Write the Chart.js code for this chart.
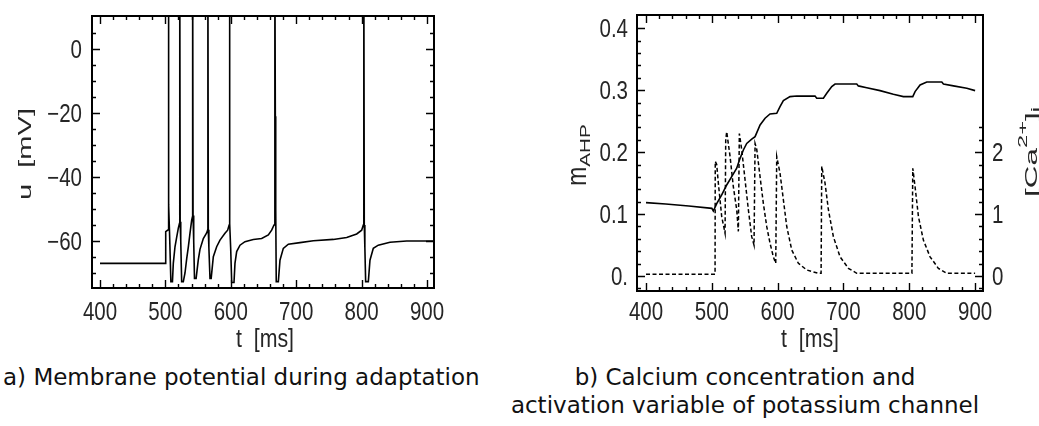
<!DOCTYPE html>
<html>
<head>
<meta charset="utf-8">
<script src="https://cdn.jsdelivr.net/npm/chart.js@4.4.1/dist/chart.umd.min.js"></script>
<style>
  html, body { margin: 0; padding: 0; background: #fff; }
  #page { position: relative; width: 1039px; height: 426px; overflow: hidden; background: #fff; }
  #chartA { position: absolute; left: 0; top: 0; }
  #chartB { position: absolute; left: 520px; top: 0; }
  .caption {
    position: absolute; margin: 0; white-space: nowrap;
    font-family: 'DejaVu Sans', Verdana, sans-serif; font-size: 23px; line-height: 28px; color: #111;
  }
  #capA { left: 3px; top: 363px; }
  #capB { left: 445px; width: 600px; top: 363px; text-align: center; }
</style>
</head>
<body>
<div id="page">
  <canvas id="chartA" width="520" height="360"></canvas>
  <canvas id="chartB" width="519" height="360"></canvas>
  <p class="caption" id="capA">a) Membrane potential during adaptation</p>
  <p class="caption" id="capB">b) Calcium concentration and<br>activation variable of potassium channel</p>
</div>
<script>
// ---- a) membrane potential u(t) ----
const membraneTime = [
  400, 500.3, 500.5, 504.2, 504.6, 505.3, 506.3, 508.4, 510.8, 512.1, 514.7, 517.3, 519.8, 521.5,
  522.0, 522.6, 523.5, 524.9, 527.4, 530, 532.6, 535.1, 537.6, 540.2, 541.4,
  541.7, 542.3, 543.3, 544.5, 547, 550.3, 552.9, 558, 563.1, 564.6,
  565.0, 565.6, 566.5, 568.2, 570, 573.3, 578.4, 583.5, 591.1, 595.2, 597.5,
  598.0, 598.6, 599.8, 601.4, 604.9, 606.4, 609, 614.1, 621.7, 634.4, 647.2, 657.4, 662.5, 666.1, 667.3,
  667.5, 668.1, 668.7, 669.5, 672.7, 675.2, 680.3, 688, 705.8, 726.2, 756.8, 777.2, 792.5, 800.1, 802.6, 803.3,
  803.5, 804.1, 805.0, 806.2, 810.3, 812.8, 817.9, 825.5, 843.4, 868.9, 910
];
const membranePotential = [
  -67, -67, -57.1, -56.5, 30, -48.7, -57, -72.7, -72.7, -67, -61.8, -58.8, -56, -54.5,
  30, -54, -60, -72.7, -72.7, -70, -65.5, -61.8, -57.6, -53.5, -52.4,
  30, -52, -60, -71.7, -71.7, -65.9, -62.6, -59.2, -57.5, -56.6,
  30, -56.5, -62, -71.7, -71.7, -64.9, -61.8, -59.7, -57.6, -56.6, -55,
  30, -54.5, -62, -73, -73, -67, -63.3, -61.3, -60.2, -59.5, -59.2, -58.1, -56.6, -55, -54.5,
  30, -21, -50, -72.7, -72.7, -66, -62.3, -61, -60.5, -59.9, -59.5, -58.9, -57.8, -56.6, -55, -54.8,
  30, -55, -62, -72.7, -72.7, -66, -62.3, -61.3, -60.4, -60, -60
];

// ---- b) activation variable m_AHP (left axis) ----
const mahpTime = [
  400, 430, 465, 500, 502.3, 507.4, 515, 522.6, 530.2, 537.8, 542.9, 547.9, 553, 560.6, 565.7,
  573.3, 580.9, 588.4, 598.6, 603.6, 608.7, 618.8, 629, 656.8, 659.4, 669.5, 674.6, 682.2, 687.2,
  720.2, 722.6, 735.4, 755.6, 775.8, 791, 805.3, 808.8, 816.4, 826.6, 849.4, 851.9, 867.1, 887.4, 900
];
const mahpValues = [
  0.1185, 0.1163, 0.113, 0.1093, 0.105, 0.117, 0.131, 0.147, 0.1605, 0.174, 0.190, 0.2035, 0.214, 0.221, 0.225,
  0.244, 0.2548, 0.2617, 0.2628, 0.2735, 0.2833, 0.2897, 0.2908, 0.2905, 0.287, 0.287, 0.295, 0.306, 0.310,
  0.310, 0.307, 0.304, 0.2994, 0.2935, 0.2897, 0.2897, 0.2978, 0.3086, 0.3134, 0.3134, 0.3102, 0.307, 0.3032, 0.2994
];

// ---- b) calcium concentration [Ca2+]i (right axis) ----
const calciumTime = [
  400, 504.9, 505.2, 507.4, 509.9, 515, 520.1, 521.1, 522.6, 527.7, 532.7, 537.8, 540.3,
  541.8, 545.4, 550.5, 555.5, 560.6, 564.1, 565.7, 568.2, 573.3, 578.3, 583.4, 588.4, 593.5, 597.1,
  598.6, 603.6, 608.7, 613.8, 621.4, 631.5, 644.2, 661.9, 666.0,
  667, 672, 677.1, 684.7, 694.8, 707.5, 720.2, 804,
  805.3, 808.8, 813.9, 821.4, 831.6, 844.2, 857, 900
];
const calciumValues = [
  0.03, 0.03, 1.85, 1.80, 1.50, 0.96, 0.69, 2.2, 2.33, 1.93, 1.44, 1.07, 0.72,
  2.30, 2.04, 1.55, 1.07, 0.635, 0.50, 2.14, 2.05, 1.60, 1.17, 0.80, 0.53, 0.31, 0.205,
  1.93, 1.66, 1.23, 0.80, 0.42, 0.205, 0.097, 0.044, 0.044,
  1.77, 1.50, 1.07, 0.635, 0.31, 0.124, 0.044, 0.044,
  1.74, 1.44, 0.96, 0.58, 0.31, 0.124, 0.044, 0.044
];

// ---- axis ticks ----
const timeTicks = [400, 500, 600, 700, 800, 900];
const timeTickLabels = ['400', '500', '600', '700', '800', '900'];
const potentialTicks = [-60, -40, -20, 0];
const potentialTickLabels = ['\u221260', '\u221240', '\u221220', '0'];
const mahpTicks = [0, 0.1, 0.2, 0.3, 0.4];
const mahpTickLabels = ['0.', '0.1', '0.2', '0.3', '0.4'];
const calciumTicks = [0, 1, 2];
const calciumTickLabels = ['0', '1', '2'];

const FONT = "'Liberation Sans', Arial, sans-serif";
const TEXT_COLOR = '#262626';
const NARROW = 0.82;   // horizontal squeeze of the plot lettering

function pairs(xs, ys) { return xs.map((x, i) => ({ x, y: ys[i] })); }

function fixedTicks(values) {
  return (scale) => { scale.ticks = values.map(v => ({ value: v })); };
}

function linearAxis(opts) {
  return {
    type: 'linear',
    position: opts.position,
    min: opts.min,
    max: opts.max,
    afterBuildTicks: fixedTicks(opts.ticks),
    afterFit: (s) => {
      if (opts.width !== undefined) s.width = opts.width;
      if (opts.height !== undefined) s.height = opts.height;
    },
    grid: { display: false, drawTicks: false },
    border: { display: false },
    ticks: { display: false }
  };
}

// Draw a piece of text made of runs (normal / sub / superscript), centred at (x, y),
// optionally rotated, squeezed or stretched along the reading direction.
function drawRuns(ctx, t) {
  ctx.save();
  ctx.fillStyle = TEXT_COLOR;
  ctx.textBaseline = 'alphabetic';
  ctx.textAlign = 'left';
  const widths = t.runs.map(r => {
    ctx.font = `${r.size}px ${FONT}`;
    return ctx.measureText(r.text).width * (r.sx || 1);
  });
  const natural = widths.reduce((p, c) => p + c, 0);
  const k = t.span ? t.span / natural : (t.squeeze || 1);
  ctx.translate(t.x, t.y);
  if (t.rotate) ctx.rotate(t.rotate);
  let x = -natural * k / 2;
  t.runs.forEach((r, i) => {
    ctx.save();
    ctx.translate(x, t.base + (r.shift || 0));
    ctx.scale(k * (r.sx || 1), 1);
    ctx.font = `${r.size}px ${FONT}`;
    ctx.fillText(r.text, 0, 0);
    ctx.restore();
    x += widths[i] * k;
  });
  ctx.restore();
}

// Frame, inward tick marks, tick labels and axis titles for one panel.
function panelDecor(cfg) {
  return {
    id: 'panelDecor',
    afterDatasetsDraw(chart) {
      const { ctx, chartArea: a } = chart;
      ctx.save();
      ctx.strokeStyle = '#000';
      ctx.lineWidth = 2;
      ctx.strokeRect(a.left, a.top, a.right - a.left, a.bottom - a.top);
      ctx.lineWidth = 1.4;
      ctx.beginPath();
      for (const s of cfg.sides) {
        const scale = chart.scales[s.scale];
        const n = Math.round((s.minorTo - s.minorFrom) / s.minorStep);
        for (let i = 0; i <= n; i++) {
          const v = s.minorFrom + i * s.minorStep;
          const major = s.major.some(m => Math.abs(m - v) < 1e-6);
          const len = major ? 8 : 4;
          const p = Math.round(scale.getPixelForValue(v)) + 0.5;
          if (s.side === 'bottom') { ctx.moveTo(p, a.bottom); ctx.lineTo(p, a.bottom - len); }
          if (s.side === 'top') { ctx.moveTo(p, a.top); ctx.lineTo(p, a.top + len); }
          if (s.side === 'left') { ctx.moveTo(a.left, p); ctx.lineTo(a.left + len, p); }
          if (s.side === 'right') { ctx.moveTo(a.right, p); ctx.lineTo(a.right - len, p); }
        }
      }
      ctx.stroke();

      // tick labels
      ctx.fillStyle = TEXT_COLOR;
      ctx.textBaseline = 'alphabetic';
      for (const l of cfg.labels) {
        const scale = chart.scales[l.scale];
        ctx.font = `${l.size}px ${FONT}`;
        l.values.forEach((v, i) => {
          const p = scale.getPixelForValue(v);
          ctx.save();
          if (l.side === 'bottom') {
            ctx.translate(p, l.baseline);
            ctx.textAlign = 'center';
          } else if (l.side === 'left') {
            ctx.translate(a.left - l.pad, p + 0.358 * l.size);
            ctx.textAlign = 'right';
          } else {
            ctx.translate(a.right + l.pad, p + 0.358 * l.size);
            ctx.textAlign = 'left';
          }
          ctx.scale(NARROW, 1);
          ctx.fillText(l.text[i], 0, 0);
          ctx.restore();
        });
      }
      ctx.restore();
      for (const t of cfg.titles) drawRuns(ctx, t);
    }
  };
}

const lineStyle = { borderColor: '#000', borderWidth: 1.6, pointRadius: 0, tension: 0, fill: false };
const TICK_SIZE = 25;

// a) membrane potential
new Chart(document.getElementById('chartA'), {
  type: 'line',
  data: {
    datasets: [{ ...lineStyle, label: 'u', data: pairs(membraneTime, membranePotential) }]
  },
  plugins: [panelDecor({
    sides: [
      { side: 'bottom', scale: 'x', major: timeTicks, minorFrom: 400, minorTo: 900, minorStep: 20 },
      { side: 'top', scale: 'x', major: timeTicks, minorFrom: 400, minorTo: 900, minorStep: 20 },
      { side: 'left', scale: 'y', major: potentialTicks, minorFrom: -70, minorTo: 5, minorStep: 5 },
      { side: 'right', scale: 'y', major: potentialTicks, minorFrom: -70, minorTo: 5, minorStep: 5 }
    ],
    labels: [
      { side: 'bottom', scale: 'x', values: timeTicks, text: timeTickLabels, size: TICK_SIZE, baseline: 320 },
      { side: 'left', scale: 'y', values: potentialTicks, text: potentialTickLabels, size: TICK_SIZE, pad: 10 }
    ],
    titles: [
      { x: 265, y: 347, base: 0, squeeze: NARROW, runs: [{ text: 't  [ms]', size: 26 }] },
      { x: 31, y: 154, base: 0, rotate: -Math.PI / 2, span: 92, runs: [{ text: 'u  [mV]', size: 18 }] }
    ]
  })],
  options: {
    responsive: false,
    animation: false,
    devicePixelRatio: 1,
    layout: { padding: { left: 0, top: 16, right: 86, bottom: 0 } },
    plugins: { legend: { display: false }, tooltip: { enabled: false } },
    scales: {
      x: linearAxis({ position: 'bottom', min: 387.8, max: 910.7, ticks: timeTicks, height: 72 }),
      y: linearAxis({ position: 'left', min: -74.7, max: 10.4, ticks: potentialTicks, width: 92 })
    }
  }
});

// b) calcium concentration and m_AHP
new Chart(document.getElementById('chartB'), {
  type: 'line',
  data: {
    datasets: [
      { ...lineStyle, label: 'mAHP', yAxisID: 'y', data: pairs(mahpTime, mahpValues) },
      { ...lineStyle, label: 'Ca', yAxisID: 'y2', borderWidth: 1.5, borderDash: [4, 2.5], data: pairs(calciumTime, calciumValues) }
    ]
  },
  plugins: [panelDecor({
    sides: [
      { side: 'bottom', scale: 'x', major: timeTicks, minorFrom: 400, minorTo: 900, minorStep: 20 },
      { side: 'top', scale: 'x', major: timeTicks, minorFrom: 400, minorTo: 900, minorStep: 20 },
      { side: 'left', scale: 'y', major: mahpTicks, minorFrom: -0.02, minorTo: 0.4, minorStep: 0.02 },
      { side: 'right', scale: 'y2', major: calciumTicks, minorFrom: -0.2, minorTo: 2.4, minorStep: 0.2 }
    ],
    labels: [
      { side: 'bottom', scale: 'x', values: timeTicks, text: timeTickLabels, size: TICK_SIZE, baseline: 320 },
      { side: 'left', scale: 'y', values: mahpTicks, text: mahpTickLabels, size: TICK_SIZE, pad: 9 },
      { side: 'right', scale: 'y2', values: calciumTicks, text: calciumTickLabels, size: TICK_SIZE, pad: 9 }
    ],
    titles: [
      { x: 290, y: 347, base: 0, squeeze: NARROW, runs: [{ text: 't  [ms]', size: 26 }] },
      { x: 66, y: 155, base: 0, rotate: -Math.PI / 2, squeeze: NARROW,
        runs: [{ text: 'm', size: 28 }, { text: 'AHP', size: 14, shift: 4, sx: 1.8 }] },
      { x: 517, y: 152, base: 0, rotate: -Math.PI / 2, span: 90,
        runs: [{ text: '[Ca', size: 16 }, { text: '2+', size: 12, shift: -10 }, { text: ']', size: 16 }, { text: 'i', size: 12, shift: 3 }] }
    ]
  })],
  options: {
    responsive: false,
    animation: false,
    devicePixelRatio: 1,
    layout: { padding: { left: 0, top: 15, right: 0, bottom: 0 } },
    plugins: { legend: { display: false }, tooltip: { enabled: false } },
    scales: {
      x: linearAxis({ position: 'bottom', min: 386.3, max: 912, ticks: timeTicks, height: 69 }),
      y: linearAxis({ position: 'left', min: -0.0242, max: 0.4215, ticks: mahpTicks, width: 117 }),
      y2: linearAxis({ position: 'right', min: -0.242, max: 4.215, ticks: calciumTicks, width: 56 })
    }
  }
});
</script>
</body>
</html>
